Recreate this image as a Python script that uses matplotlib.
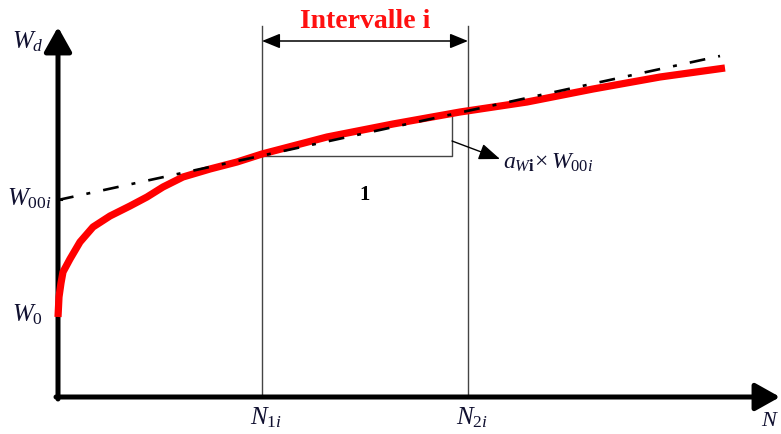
import matplotlib
matplotlib.use("Agg")
import matplotlib.pyplot as plt

# Measured curve W_d(N) (arbitrary units, origin at the axes corner)
curve_n = [0, 1, 3, 5, 12, 22, 35, 52, 72, 89, 105, 125, 152, 179, 204,
           269, 335, 402, 469, 535, 602, 667]
curve_w = [80, 100, 114, 125, 138, 155, 170, 181, 191, 200, 210, 220, 228, 235, 243,
           260, 273, 285, 295, 308, 320, 329]

# Tangent (dash-dot) line through the interval
tangent_n = [0, 662]
tangent_w = [197, 341]

# Interval bounds
n1i = 204
n2i = 410
tri_n = [204, 394, 394]
tri_w = [241, 241, 282]

# Axis levels
w0 = 81
w00i = 197

plt.rcParams["mathtext.fontset"] = "custom"
plt.rcParams["mathtext.it"] = "Liberation Serif:italic"
plt.rcParams["mathtext.rm"] = "Liberation Serif"
plt.rcParams["mathtext.bf"] = "Liberation Serif:bold"

fig = plt.figure(figsize=(7.81, 4.35), dpi=100)
ax = fig.add_axes([0, 0, 1, 1])
ax.set_xlim(-58, 723)
ax.set_ylim(-37, 398)
ax.axis("off")

lab_col = "#101030"

# axes with arrows
ax.annotate("", xy=(0, 370), xytext=(0, -2),
            arrowprops=dict(arrowstyle="-|>,head_length=0.75,head_width=0.42",
                            lw=3.6, color="black", mutation_scale=20,
                            shrinkA=0, shrinkB=0))
ax.annotate("", xy=(722, 0), xytext=(-2, 0),
            arrowprops=dict(arrowstyle="-|>,head_length=0.75,head_width=0.42",
                            lw=3.6, color="black", mutation_scale=20,
                            shrinkA=0, shrinkB=0))

# interval vertical lines
for n in (n1i, n2i):
    ax.plot([n, n], [0, 371], color="#444444", lw=1.0)

# interval double arrow
ax.annotate("", xy=(n2i, 356), xytext=(n1i, 356),
            arrowprops=dict(arrowstyle="<|-|>,head_length=1.1,head_width=0.45",
                            lw=1.1, color="black", mutation_scale=10,
                            shrinkA=0, shrinkB=0))
ax.text((n1i + n2i) / 2, 376, "Intervalle i", color="#ff1010",
        fontsize=20, fontweight="bold", family="Liberation Serif",
        ha="center", va="center")

# slope triangle
ax.plot(tri_n, tri_w, color="#444444", lw=1.0)
ax.annotate("", xy=(442, 238), xytext=(394, 256),
            arrowprops=dict(arrowstyle="-|>,head_length=1.3,head_width=0.5",
                            lw=1.0, color="black", mutation_scale=10,
                            shrinkA=0, shrinkB=0))
ax.text(445, 236, r"$a_{W\mathbf{i}}\!\times W_{00i}$", fontsize=17,
        color=lab_col, ha="left", va="center")
ax.text(307, 203, "1", fontsize=15, fontweight="bold",
        family="Liberation Serif", ha="center", va="center")

# red curve and tangent
ax.plot(curve_n, curve_w, color="#ff0000", lw=5.2, solid_capstyle="butt",
        solid_joinstyle="round", zorder=3)
ax.plot(tangent_n, tangent_w, color="black", lw=1.9,
        linestyle=(0, (6, 5, 1.5, 5)), zorder=4)

# small tick at W00i
ax.plot([0, 4], [w00i, w00i], color="black", lw=1.5)

# labels
ax.text(-46, 356, r"$W_d$", fontsize=18, color=lab_col, ha="left", va="center")
ax.text(-51, w00i + 2, r"$W_{00i}$", fontsize=18, color=lab_col, ha="left", va="center")
ax.text(-46, w0 + 2, r"$W_0$", fontsize=18, color=lab_col, ha="left", va="center")
ax.text(n1i + 4, -20, r"$N_{1i}$", fontsize=18, color=lab_col, ha="center", va="center")
ax.text(n2i + 4, -20, r"$N_{2i}$", fontsize=18, color=lab_col, ha="center", va="center")
ax.text(703, -22, r"$N$", fontsize=16, color=lab_col, ha="left", va="center")

fig.savefig("out.png", dpi=100)
